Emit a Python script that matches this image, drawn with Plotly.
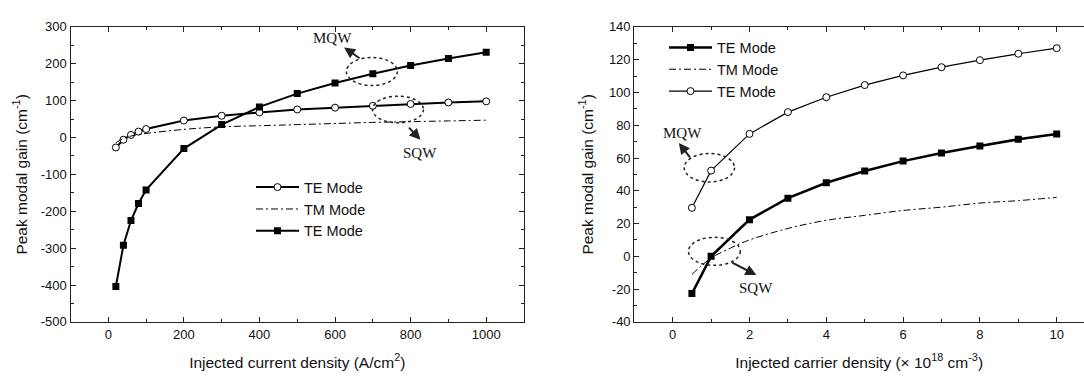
import plotly.graph_objects as go

# ---------------- data: left panel (vs injected current density) ----------------
j_current = [20, 40, 60, 80, 100, 200, 300, 400, 500, 600, 700, 800, 900, 1000]
sqw_te_left = [-27, -6, 7, 16, 23, 46, 59, 68, 76, 81, 86, 91, 95, 98]
sqw_tm_left = [-14, -3, 4, 8, 11, 22, 29, 32, 35, 38, 41, 43, 45, 47]
mqw_te_left = [-404, -292, -225, -179, -142, -30, 35, 83, 119, 148, 173, 195, 214, 231]

# ---------------- data: right panel (vs injected carrier density) ----------------
n_carrier = [0.5, 1, 2, 3, 4, 5, 6, 7, 8, 9, 10]
sqw_te_right = [-22.7, 0, 22.4, 35.5, 44.9, 52.1, 58.1, 63.0, 67.3, 71.4, 74.7]
mqw_te_right = [29.6, 52.3, 74.7, 88.0, 97.1, 104.5, 110.4, 115.4, 119.7, 123.6, 127.0]
n_tm = [0.5, 1, 1.5, 2, 3, 4, 5, 6, 7, 8, 9, 10]
sqw_tm_right = [-11, -1, 5, 10, 17, 22, 25, 28, 30, 32.5, 34, 36]

# ---------------- tick labels ----------------
left_x_ticks = [0, 200, 400, 600, 800, 1000]
left_y_ticks = [-500, -400, -300, -200, -100, 0, 100, 200, 300]
right_x_ticks = [0, 2, 4, 6, 8, 10]
right_y_ticks = [-40, -20, 0, 20, 40, 60, 80, 100, 120, 140]

FONT = "Liberation Sans, Arial, sans-serif"
SERIF = "Liberation Serif, Times New Roman, serif"
AX = "#222222"

fig = go.Figure()

# left panel traces
fig.add_trace(go.Scatter(x=j_current, y=sqw_te_left, name="TE Mode", mode="lines+markers",
                         line=dict(color="black", width=2),
                         marker=dict(symbol="circle", size=7, color="white", line=dict(color="black", width=1)),
                         xaxis="x", yaxis="y", legend="legend"))
fig.add_trace(go.Scatter(x=j_current, y=sqw_tm_left, name="TM Mode", mode="lines",
                         line=dict(color="black", width=1, dash="7px,3px,2px,3px", shape="spline"),
                         xaxis="x", yaxis="y", legend="legend"))
fig.add_trace(go.Scatter(x=j_current, y=mqw_te_left, name="TE Mode", mode="lines+markers",
                         line=dict(color="black", width=2),
                         marker=dict(symbol="square", size=7, color="black"),
                         xaxis="x", yaxis="y", legend="legend"))

# right panel traces
fig.add_trace(go.Scatter(x=n_carrier, y=sqw_te_right, name="TE Mode", mode="lines+markers",
                         line=dict(color="black", width=2.5),
                         marker=dict(symbol="square", size=7, color="black"),
                         xaxis="x2", yaxis="y2", legend="legend2"))
fig.add_trace(go.Scatter(x=n_tm, y=sqw_tm_right, name="TM Mode", mode="lines",
                         line=dict(color="black", width=1, dash="7px,3px,2px,3px", shape="spline"),
                         xaxis="x2", yaxis="y2", legend="legend2"))
fig.add_trace(go.Scatter(x=n_carrier, y=mqw_te_right, name="TE Mode", mode="lines+markers",
                         line=dict(color="black", width=1.2),
                         marker=dict(symbol="circle", size=7, color="white", line=dict(color="black", width=1)),
                         xaxis="x2", yaxis="y2", legend="legend2"))

ydom = [1 - 328 / 376, 1 - 20.7 / 376]

def common(rng, ticks, mdtick, title, mirror, standoff):
    return dict(range=rng, tickmode="array", tickvals=ticks, ticktext=[str(t) for t in ticks],
                ticks="inside", ticklen=5, tickwidth=1, tickcolor=AX,
                showline=True, linecolor=AX, linewidth=1.2,
                mirror=mirror, showgrid=False, zeroline=False,
                minor=dict(tickmode="linear", dtick=mdtick, tick0=0, ticks="inside", ticklen=3,
                           tickcolor=AX, showgrid=False),
                tickfont=dict(family=FONT, size=13, color="#111"),
                title=dict(text=title, font=dict(family=FONT, size=15.5, color="#111"), standoff=standoff))

xr = (1084 - 634.3) / 38.4 - 1

leg_common = dict(xanchor="left", yanchor="top", bgcolor="rgba(0,0,0,0)",
                  font=dict(family=FONT, size=14.5, color="#111"), traceorder="normal",
                  itemwidth=43, borderwidth=0)

fig.update_layout(
    width=1084, height=376, margin=dict(l=0, r=0, t=0, b=0),
    paper_bgcolor="white", plot_bgcolor="white",
    xaxis=dict(common([-100, 1100], left_x_ticks, 100,
                      "Injected current density (A/cm<sup>2</sup>)", "allticks", 16),
               domain=[70.5 / 1084, 524 / 1084], anchor="y"),
    yaxis=dict(common([-500, 300], left_y_ticks, 50,
                      "Peak modal gain (cm<sup>-1</sup>)", "allticks", 9),
               domain=ydom, anchor="x"),
    xaxis2=dict(common([-1, xr], right_x_ticks, 1,
                       "Injected carrier density (× 10<sup>18</sup> cm<sup>-3</sup>)", "allticks", 16),
                domain=[634.3 / 1084, 1.0], anchor="y2"),
    yaxis2=dict(common([-40, 140], right_y_ticks, 10,
                       "Peak modal gain (cm<sup>-1</sup>)", False, 11),
                domain=ydom, anchor="x2"),
    legend=dict(x=251 / 1084, y=1 - 171 / 376, **leg_common),
    legend2=dict(x=664 / 1084, y=1 - 25.5 / 376, **leg_common),
    showlegend=True,
)

# dotted ellipses
ell = dict(type="circle", line=dict(color="#222", width=1.5, dash="dot"), fillcolor="rgba(0,0,0,0)")
fig.add_shape(xref="x", yref="y", x0=630, x1=765, y0=141, y1=217, **ell)
fig.add_shape(xref="x", yref="y", x0=699, x1=834, y0=40, y1=112, **ell)
fig.add_shape(xref="x2", yref="y2", x0=0.30, x1=1.61, y0=45.4, y1=62.7, **ell)
fig.add_shape(xref="x2", yref="y2", x0=0.41, x1=1.76, y0=-5.5, y1=11.6, **ell)

# arrows
arr = dict(text="", showarrow=True, arrowhead=2, arrowsize=1.1, arrowwidth=2, arrowcolor="#222")
fig.add_annotation(xref="x", yref="y", axref="x", ayref="y", x=624, y=244, ax=669, ay=212, **arr)
fig.add_annotation(xref="x", yref="y", axref="x", ayref="y", x=826, y=-6, ax=792, ay=31, **arr)
fig.add_annotation(xref="x2", yref="y2", axref="x2", ayref="y2", x=0.16, y=69.2, ax=0.48, ay=59.5, **arr)
fig.add_annotation(xref="x2", yref="y2", axref="x2", ayref="y2", x=2.18, y=-11.4, ax=1.51, ay=-3.4, **arr)

# labels
lab = dict(showarrow=False, font=dict(family=SERIF, size=15, color="#111"))
fig.add_annotation(xref="x", yref="y", x=594, y=270, text="MQW", **lab)
fig.add_annotation(xref="x", yref="y", x=824, y=-43, text="SQW", **lab)
fig.add_annotation(xref="x2", yref="y2", x=0.25, y=75.4, text="MQW", **lab)
fig.add_annotation(xref="x2", yref="y2", x=2.18, y=-19.5, text="SQW", **lab)

fig.write_html(
    "out.html",
    config={"displayModeBar": False},
    post_script="document.body.style.margin='0';document.body.style.overflow='hidden';",
)
